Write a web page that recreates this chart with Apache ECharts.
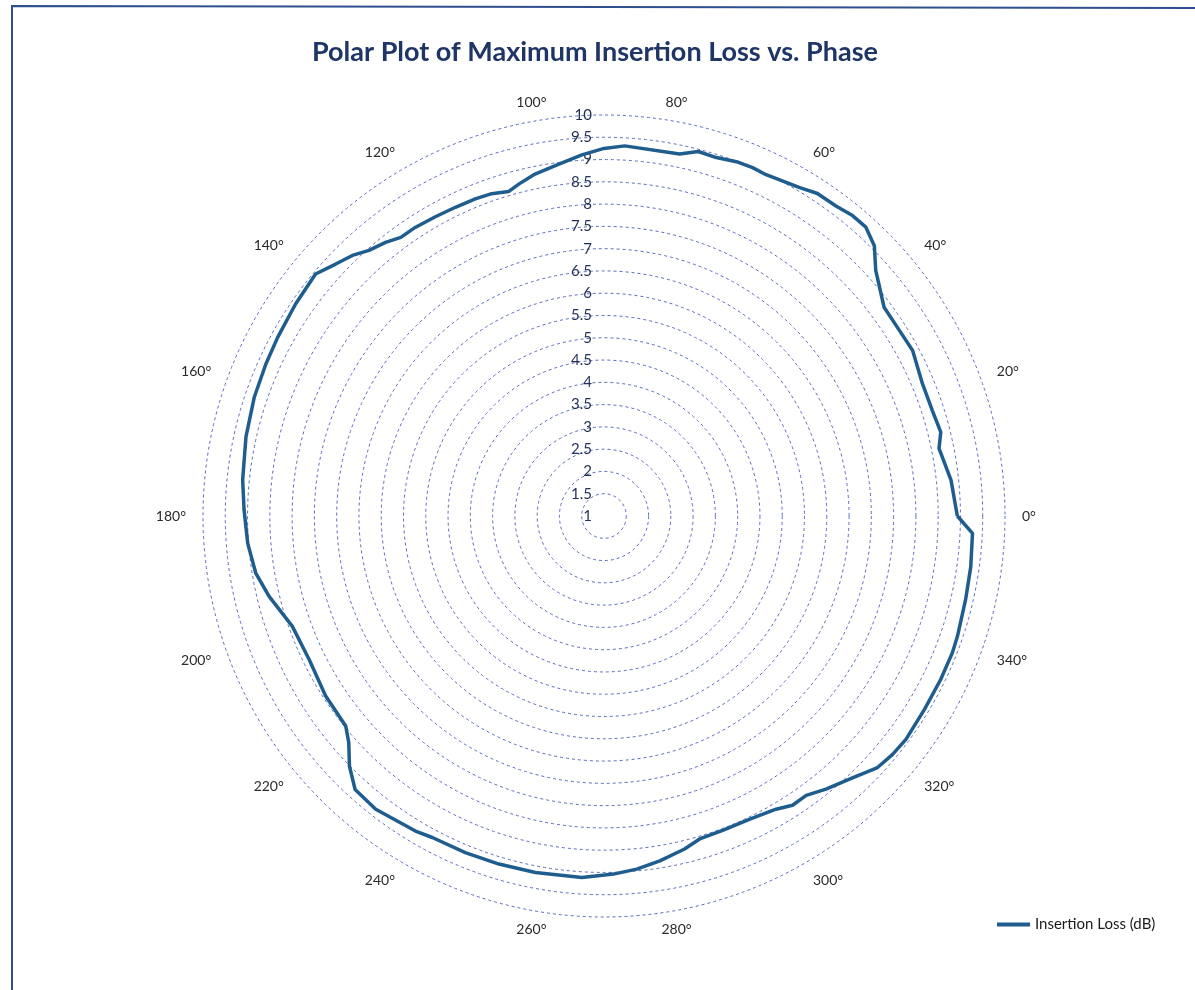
<!DOCTYPE html>
<html>
<head>
<meta charset="utf-8">
<script src="https://cdn.jsdelivr.net/npm/echarts@6/dist/echarts.min.js"></script>
<style>
html,body{margin:0;padding:0;background:#ffffff;}
#chart{width:1195px;height:990px;}
</style>
</head>
<body>
<div id="chart"></div>
<script>
// Phase angles (degrees)
const phaseDeg = [
  0, 5.9, 11.4, 14.0, 17.8, 22.6, 28.2, 32.1, 36.7, 42.1,
  45.0, 47.8, 50.4, 53.2, 56.5, 59.2, 64.6, 66.9, 69.5, 72.6,
  75.5, 78.2, 86.8, 90.0, 93.5, 97.4, 101.4, 104.4, 106.4, 109.2,
  112.1, 115.7, 119.4, 123.2, 126.1, 128.6, 131.5, 134.0, 136.8, 140.0,
  145.5, 151.3, 155.8, 161.2, 167.5, 174.3, 179.0, 184.4, 189.3, 193.5,
  199.5, 206.0, 212.9, 219.1, 221.6, 224.5, 227.7, 232.1, 239.1, 241.9,
  247.6, 253.2, 259.1, 266.5, 269.4, 271.5, 275.3, 279.2, 283.6, 286.5,
  290.8, 295.7, 300.4, 303.1, 305.9, 309.1, 313.5, 317.4, 320.4, 323.5,
  328.9, 334.1, 338.5, 341.2, 347.0, 352.1, 357.3, 360
];
// Maximum insertion loss (dB) at each phase
const lossDb = [
  8.93, 8.83, 8.67, 8.79, 8.74, 8.74, 8.86, 8.83, 8.84, 9.22,
  9.58, 9.75, 9.75, 9.69, 9.68, 9.58, 9.48, 9.50, 9.49, 9.43,
  9.45, 9.30, 9.32, 9.25, 9.12, 8.96, 8.83, 8.69, 8.59, 8.66,
  8.68, 8.69, 8.71, 8.74, 8.74, 8.86, 8.96, 9.13, 9.26, 9.45,
  9.40, 9.35, 9.32, 9.29, 9.23, 9.15, 9.08, 9.02, 8.92, 8.73,
  8.42, 8.36, 8.44, 8.47, 8.66, 9.01, 9.30, 9.34, 9.24, 9.18,
  9.17, 9.16, 9.15, 9.13, 9.07, 9.04, 8.96, 8.84, 8.69, 8.56,
  8.54, 8.55, 8.63, 8.75, 8.74, 8.90, 9.10, 9.34, 9.40, 9.43,
  9.40, 9.40, 9.40, 9.38, 9.33, 9.31, 9.28, 8.93
];
const seriesName = 'Insertion Loss (dB)';
const titleText = 'Polar Plot of Maximum Insertion Loss vs. Phase';
const radiusRange = [1, 10];
const radiusStep = 0.5;
const angleRange = [0, 360];
const angleStep = 20;

const chart = echarts.init(document.getElementById('chart'), null, {renderer: 'canvas'});
const CX = 604, CY = 516, R = 401;
const FONT = 'Lato';

chart.setOption({
  backgroundColor: '#ffffff',
  animation: false,
  title: {
    text: titleText,
    left: 307,
    top: 34,
    textStyle: {fontFamily: FONT, fontSize: 27, fontWeight: 'bold', color: '#1f3566'}
  },
  legend: {
    data: [seriesName],
    left: 997,
    top: 917,
    padding: 0,
    icon: 'rect',
    itemWidth: 33,
    itemHeight: 4,
    textStyle: {fontFamily: FONT, fontSize: 15, color: '#1a1a1a'}
  },
  polar: [
    {center: [CX, CY], radius: R},
    {center: [CX, CY], radius: R}
  ],
  angleAxis: [
    {
      polarIndex: 0,
      type: 'value',
      min: angleRange[0],
      max: angleRange[1],
      interval: angleStep,
      startAngle: 0,
      clockwise: false,
      axisLine: {show: false},
      axisTick: {show: false},
      splitLine: {show: false},
      axisLabel: {
        margin: 17,
        padding: [-5, 0, -5, 0],
        fontFamily: FONT,
        fontSize: 14,
        color: '#2a2a2a',
        formatter: function (v) { return v === 360 ? '' : v + '°'; }
      }
    },
    {
      polarIndex: 1,
      type: 'value',
      min: angleRange[0],
      max: angleRange[1],
      startAngle: 90,
      clockwise: false,
      show: false
    }
  ],
  radiusAxis: [
    {
      polarIndex: 0,
      type: 'value',
      min: radiusRange[0],
      max: radiusRange[1],
      interval: radiusStep,
      axisLine: {show: false},
      axisTick: {show: false},
      axisLabel: {show: false},
      splitLine: {show: true, lineStyle: {color: '#5a6bbd', width: 1, type: [3, 3]}}
    },
    {
      polarIndex: 1,
      type: 'value',
      min: radiusRange[0],
      max: radiusRange[1],
      interval: radiusStep,
      axisLine: {show: false},
      axisTick: {show: false},
      splitLine: {show: false},
      axisLabel: {margin: 12, fontFamily: FONT, fontSize: 15, color: '#1f2f55'}
    }
  ],
  series: [{
    name: seriesName,
    type: 'line',
    coordinateSystem: 'polar',
    polarIndex: 0,
    showSymbol: false,
    symbol: 'none',
    smooth: false,
    color: '#1f5d8e',
    lineStyle: {color: '#1f5d8e', width: 3.5},
    data: phaseDeg.map(function (p, i) { return [lossDb[i], p]; })
  }],
  graphic: [{
    type: 'polyline',
    shape: {points: [[12, 990], [12, 6], [1195, 8]]},
    style: {stroke: '#2f4f8f', lineWidth: 2, fill: null}
  }]
});
</script>
</body>
</html>
